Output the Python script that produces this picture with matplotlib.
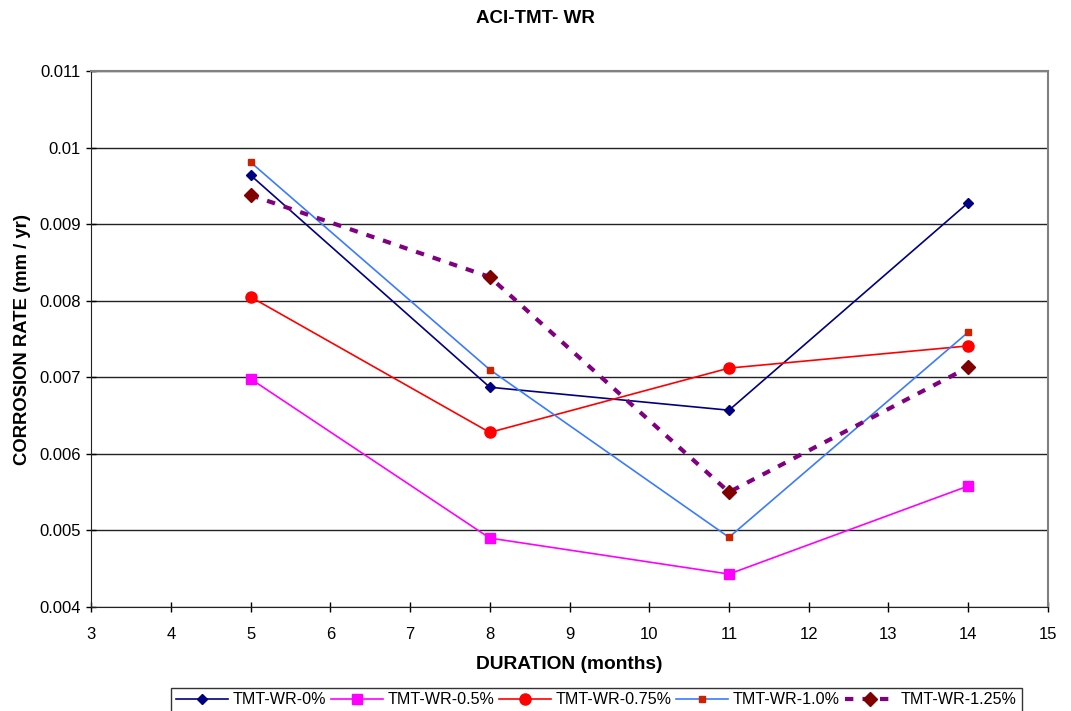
import matplotlib.pyplot as plt

plt.rcParams['font.family'] = ['Liberation Sans', 'DejaVu Sans']

months = [5, 8, 11, 14]
wr_0 = [0.00964, 0.00687, 0.00657, 0.00928]
wr_05 = [0.00698, 0.00490, 0.00443, 0.00558]
wr_075 = [0.00805, 0.00628, 0.00712, 0.00741]
wr_10 = [0.00981, 0.00710, 0.00491, 0.00759]
wr_125 = [0.00938, 0.00831, 0.00550, 0.00713]

fig = plt.figure(figsize=(10.71, 7.11), dpi=100)
ax = fig.add_axes([0.085, 0.1463, 0.8935, 0.7538])

ax.plot(months, wr_0, color='#000080', lw=1.2, marker='D', markersize=5,
        label='TMT-WR-0%')
ax.plot(months, wr_05, color='#FF00FF', lw=1.2, marker='s', markersize=7,
        label='TMT-WR-0.5%')
ax.plot(months, wr_075, color='#FF0000', lw=1.2, marker='o', markersize=8,
        label='TMT-WR-0.75%')
ax.plot(months, wr_10, color='#3B7BFF', lw=1.2, marker='s', markersize=4,
        markerfacecolor='#CC2200', markeredgecolor='#CC2200', label='TMT-WR-1.0%')
ax.plot(months, wr_125, color='#800080', lw=3, ls=(0, (2, 2.2)), marker='D',
        markersize=7, markerfacecolor='#800000', markeredgecolor='#800000',
        label='TMT-WR-1.25%')

ax.set_xlim(3, 15)
ax.set_ylim(0.004, 0.011)
ax.set_xticks(range(3, 16))
ax.set_yticks([0.004, 0.005, 0.006, 0.007, 0.008, 0.009, 0.01, 0.011])
ax.set_yticklabels(['0.004', '0.005', '0.006', '0.007', '0.008', '0.009', '0.01', '0.011'])
ax.yaxis.grid(True, color='#222222', lw=1)
ax.set_axisbelow(True)
ax.tick_params(direction='inout', length=7, width=1, labelsize=12, pad=4)
ax.tick_params(axis='x', pad=11)

for side in ['top', 'right']:
    ax.spines[side].set_color('#808080')
    ax.spines[side].set_linewidth(1.5)
for side in ['left', 'bottom']:
    ax.spines[side].set_color('#222222')

ax.set_xlabel('DURATION (months)', fontsize=13.8, fontweight='bold', labelpad=10)
ax.set_ylabel('CORROSION RATE (mm / yr)', fontsize=13.3, fontweight='bold', labelpad=6)
fig.text(0.5, 0.974, 'ACI-TMT- WR', ha='center', va='center', fontsize=13.5,
         fontweight='bold')

leg = fig.legend(loc='center', bbox_to_anchor=(0.557, 0.0155), ncol=5,
                 fontsize=11.6, frameon=True, fancybox=False, edgecolor='black',
                 handlelength=3.2, handletextpad=0.3, columnspacing=0.3,
                 borderpad=0.3)
leg.get_frame().set_linewidth(1)

fig.savefig('out.png', dpi=100)
